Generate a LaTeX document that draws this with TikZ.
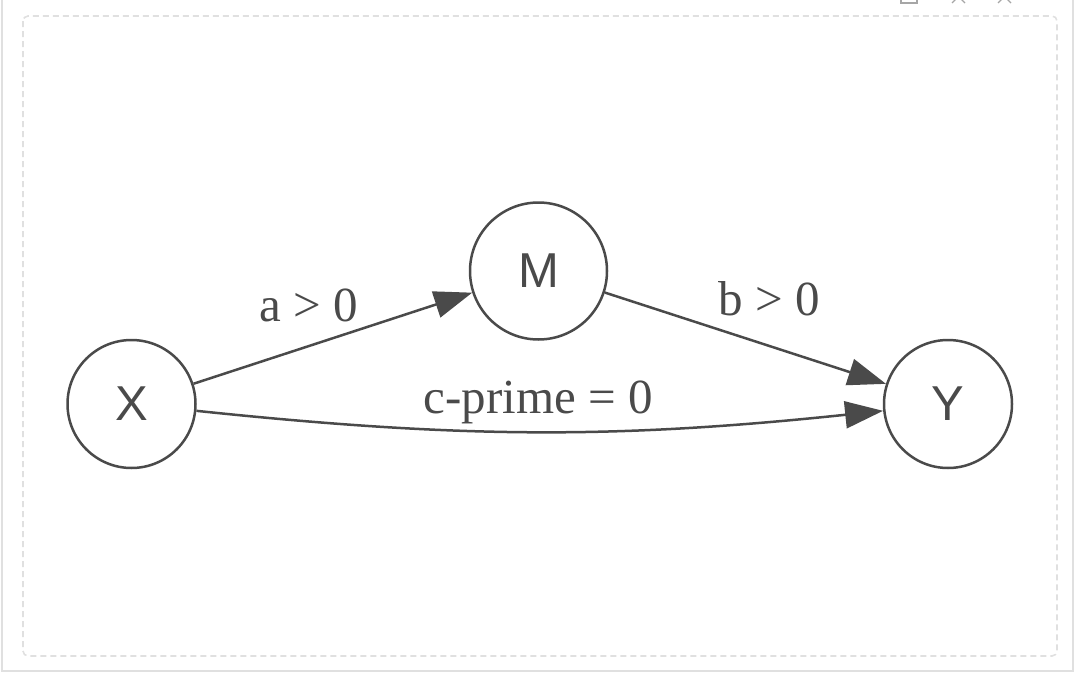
\documentclass[tikz,border=0pt]{standalone}
\usepackage{fontspec}
\setmainfont{Liberation Serif}
\newfontfamily\nodefont{Liberation Sans}
\usetikzlibrary{arrows.meta}
\definecolor{ink}{HTML}{4A4A4A}
\definecolor{frame}{HTML}{E0E0E0}
\tikzset{
  vnode/.style={circle, draw=ink, line width=2.5pt, inner sep=0pt, text=ink,
    font=\nodefont\fontsize{49}{49}\selectfont},
  conn/.style={draw=ink, line width=2.5pt, -{Triangle[length=38pt,width=27pt]}},
  elabel/.style={text=ink, font=\fontsize{49}{49}\selectfont, inner sep=0pt, anchor=base},
  uiicon/.style={draw=gray!70, line width=1.2pt},
}
\begin{document}
\begin{tikzpicture}[x=1pt,y=-1pt]
\useasboundingbox (0,0) rectangle (1074,688);
\begin{scope}
\clip (0,0) rectangle (1074,688);
% outer frame
\draw[frame, line width=2pt] (1.5,-10) rectangle (1072.5,671);
% inner dashed frame
\draw[frame, line width=1.6pt, dash pattern=on 6pt off 4pt, rounded corners=5pt] (23,16) rectangle (1057,656);
% partial toolbar icons at top
\draw[uiicon] (901,-8) rectangle (917,3);
\draw[uiicon] (952,-10) -- (965,3) (965,-10) -- (952,3);
\draw[uiicon] (998,-10) -- (1011,3) (1011,-10) -- (998,3);
\end{scope}
% nodes
\node[vnode, minimum size=128pt] (X) at (131.5,404) {X};
\node[vnode, minimum size=137pt] (M) at (538.5,271) {M};
\node[vnode, minimum size=128pt] (Y) at (948,404) {Y};
% connectors
\draw[conn] (X) -- (M);
\draw[conn] (M) -- (Y);
\draw[conn] (X) to[bend right=6] (Y);
% labels
\node[elabel] (la) at (309,321) {a > 0};
\node[elabel] (lb) at (769,315) {b > 0};
\node[elabel] (lc) at (538,413) {c-prime = 0};
\end{tikzpicture}
\end{document}
